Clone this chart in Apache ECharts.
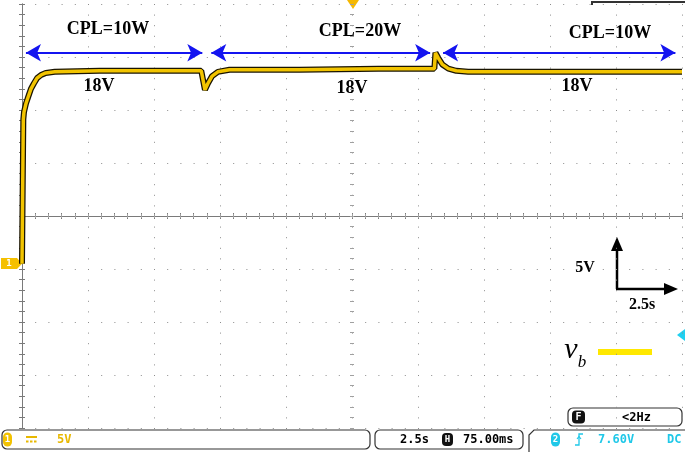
<!DOCTYPE html>
<html>
<head>
<meta charset="utf-8">
<script src="https://cdn.jsdelivr.net/npm/echarts@6/dist/echarts.min.js"></script>
<style>
html, body { margin: 0; padding: 0; background: #fff; }
#scope { width: 685px; height: 452px; }
</style>
</head>
<body>
<div id="scope"></div>
<script>
// trace v_b: time (s) and voltage (V)
var timeS = [0, 0.04, 0.05, 0.075, 0.15, 0.23, 0.34, 0.45, 0.57, 0.72, 0.9, 1.24, 2.94, 4.83, 6.79, 6.83, 6.93, 7.04, 7.2, 7.42, 7.86, 10.5, 13.5, 15.62, 15.66, 15.77, 15.92, 16.15, 16.45, 16.9, 20, 25];
var voltsV = [0, 0, 13.6, 14.3, 15.1, 15.7, 16.5, 17.0, 17.5, 17.8, 18.0, 18.1, 18.2, 18.2, 18.2, 18.1, 16.4, 17.0, 17.7, 18.1, 18.3, 18.3, 18.4, 18.4, 19.9, 19.4, 18.8, 18.4, 18.2, 18.1, 18.1, 18.1];

// load intervals (the blue arrows)
var loadLabels = ['CPL=10W', 'CPL=20W', 'CPL=10W'];
var loadStart = [0.15, 7.17, 15.95];
var loadEnd = [6.83, 15.46, 24.75];
var arrowVolts = 19.9;
var levelLabels = ['18V', '18V', '18V'];

// scope settings
var secPerDiv = 2.5;
var voltsPerDiv = 5;
var groundDiv = -0.9;
var statusCh1 = '5V';
var statusTime = '2.5s';
var statusDelay = '75.00ms';
var statusTrig = '7.60V';
var statusFreq = '<2Hz';

var toDiv = function (v) { return v / voltsPerDiv + groundDiv; };
var trace = timeS.map(function (t, i) { return [t, toDiv(voltsV[i])]; });

var chart = echarts.init(document.getElementById('scope'), null, { renderer: 'canvas' });

var gridGrey = '#8c8c8c';
var dotX = { show: true, lineStyle: { color: gridGrey, width: 1, type: [1, 9.6] } };
var dotY = { show: true, lineStyle: { color: gridGrey, width: 1, type: [1, 12.2] } };

function xAx(pos, offset, opts) {
  return Object.assign({
    type: 'value', position: pos, offset: offset,
    min: 0, max: 10 * secPerDiv, interval: secPerDiv,
    axisLine: { show: true, lineStyle: { color: '#7a7a7a', width: 1 } },
    axisTick: { show: true, inside: true, length: 3, lineStyle: { color: '#7a7a7a' } },
    minorTick: { show: true, splitNumber: 5, length: 3, lineStyle: { color: '#7a7a7a' } },
    axisLabel: { show: false },
    splitLine: { show: false }
  }, opts || {});
}
function yAx(pos, offset, opts) {
  return Object.assign({
    type: 'value', position: pos, offset: offset,
    min: -4, max: 4, interval: 1,
    axisLine: { show: true, lineStyle: { color: '#7a7a7a', width: 1 } },
    axisTick: { show: true, inside: true, length: 3, lineStyle: { color: '#7a7a7a' } },
    minorTick: { show: true, splitNumber: 5, length: 3, lineStyle: { color: '#7a7a7a' } },
    axisLabel: { show: false },
    splitLine: { show: false }
  }, opts || {});
}
var centreLine = { show: false };
var centreTick = function (inside) {
  return {
    axisLine: centreLine,
    axisTick: { show: true, inside: inside, length: 2, lineStyle: { color: '#a0a0a0' } },
    minorTick: { show: true, splitNumber: 5, length: 2, lineStyle: { color: '#a0a0a0' } }
  };
};

var arrowData = loadStart.map(function (s, i) {
  return [{ coord: [s, toDiv(arrowVolts)] }, { coord: [loadEnd[i], toDiv(arrowVolts)] }];
});

var serif = '"Liberation Serif", "Times New Roman", serif';
var mono = '"DejaVu Sans Mono", monospace';
var labelX = [108, 360, 610];
var labelY = [29, 31, 33];
var levelX = [99, 352, 577];
var levelY = [86, 88, 86];

var graphics = [];
loadLabels.forEach(function (txt, i) {
  graphics.push({ type: 'text', x: labelX[i], y: labelY[i], style: { text: txt, font: 'bold 18px ' + serif, fill: '#000', align: 'center', verticalAlign: 'middle' } });
});
levelLabels.forEach(function (txt, i) {
  graphics.push({ type: 'text', x: levelX[i], y: levelY[i], style: { text: txt, font: 'bold 18px ' + serif, fill: '#000', align: 'center', verticalAlign: 'middle' } });
});

graphics = graphics.concat([
  // scale bar
  { type: 'line', shape: { x1: 617, y1: 289, x2: 617, y2: 248 }, style: { stroke: '#000', lineWidth: 2.5 } },
  { type: 'polygon', shape: { points: [[617, 237], [611, 251], [623, 251]] }, style: { fill: '#000' } },
  { type: 'line', shape: { x1: 616, y1: 289, x2: 667, y2: 289 }, style: { stroke: '#000', lineWidth: 2.5 } },
  { type: 'polygon', shape: { points: [[678, 289], [664, 283], [664, 295]] }, style: { fill: '#000' } },
  { type: 'text', x: 585, y: 268, style: { text: voltsPerDiv + 'V', font: 'bold 16px ' + serif, fill: '#000', align: 'center', verticalAlign: 'middle' } },
  { type: 'text', x: 642, y: 305, style: { text: secPerDiv + 's', font: 'bold 16px ' + serif, fill: '#000', align: 'center', verticalAlign: 'middle' } },
  // legend v_b
  { type: 'text', x: 571, y: 350, style: { text: 'v', font: 'italic 30px ' + serif, fill: '#000', align: 'center', verticalAlign: 'middle' } },
  { type: 'text', x: 582, y: 363, style: { text: 'b', font: 'italic 17px ' + serif, fill: '#000', align: 'center', verticalAlign: 'middle' } },
  { type: 'rect', shape: { x: 598, y: 349, width: 54, height: 6 }, style: { fill: '#ffe800' } },
  // ch1 ground marker
  { type: 'polygon', shape: { points: [[1, 258], [17, 258], [22, 263.7], [17, 269], [1, 269]] }, style: { fill: '#f5c000' } },
  { type: 'text', x: 9, y: 264, style: { text: '1', font: 'bold 9px ' + mono, fill: '#fff', align: 'center', verticalAlign: 'middle' } },
  // trigger position marker
  { type: 'polygon', shape: { points: [[347, 0], [359, 0], [353, 9]] }, style: { fill: '#f5b800' } },
  // trigger level marker
  { type: 'polygon', shape: { points: [[677, 335], [685, 329], [685, 341]] }, style: { fill: '#20d0f0' } },
  // top right readout edge
  { type: 'polyline', shape: { points: [[592, 5], [592, 2], [685, 2]] }, style: { stroke: '#333', lineWidth: 2 } },
  // F box
  { type: 'rect', shape: { x: 568, y: 408, width: 114, height: 18, r: 5 }, style: { fill: '#fff', stroke: '#333', lineWidth: 1.2 } },
  { type: 'rect', shape: { x: 572, y: 410.5, width: 13, height: 13, r: 4 }, style: { fill: '#111' } },
  { type: 'text', x: 578.5, y: 417.5, style: { text: 'F', font: 'bold 10px ' + mono, fill: '#fff', align: 'center', verticalAlign: 'middle' } },
  { type: 'text', x: 622, y: 417.5, style: { text: statusFreq, font: 'bold 12px ' + mono, fill: '#000', align: 'left', verticalAlign: 'middle' } },
  // status bar: ch1
  { type: 'rect', shape: { x: 2, y: 430, width: 368, height: 19, r: 5 }, style: { fill: '#fff', stroke: '#333', lineWidth: 1.2 } },
  { type: 'rect', shape: { x: 3, y: 432.5, width: 9, height: 14, r: 4.5 }, style: { fill: '#f2c200' } },
  { type: 'text', x: 7.5, y: 439.5, style: { text: '1', font: 'bold 9px ' + mono, fill: '#fff', align: 'center', verticalAlign: 'middle' } },
  { type: 'line', shape: { x1: 26, y1: 437, x2: 37, y2: 437 }, style: { stroke: '#e8b800', lineWidth: 2 } },
  { type: 'line', shape: { x1: 26, y1: 441.5, x2: 37, y2: 441.5 }, style: { stroke: '#e8b800', lineWidth: 2, lineDash: [2.5, 1.5] } },
  { type: 'text', x: 57, y: 439.5, style: { text: statusCh1, font: 'bold 12px ' + mono, fill: '#e8b800', align: 'left', verticalAlign: 'middle' } },
  // status bar: timebase
  { type: 'rect', shape: { x: 375, y: 430, width: 148, height: 19, r: 5 }, style: { fill: '#fff', stroke: '#333', lineWidth: 1.2 } },
  { type: 'text', x: 400, y: 439.5, style: { text: statusTime, font: 'bold 12px ' + mono, fill: '#000', align: 'left', verticalAlign: 'middle' } },
  { type: 'rect', shape: { x: 442, y: 433, width: 11, height: 13, r: 4 }, style: { fill: '#111' } },
  { type: 'text', x: 447.5, y: 439.5, style: { text: 'H', font: 'bold 9px ' + mono, fill: '#fff', align: 'center', verticalAlign: 'middle' } },
  { type: 'text', x: 463, y: 439.5, style: { text: statusDelay, font: 'bold 12px ' + mono, fill: '#000', align: 'left', verticalAlign: 'middle' } },
  // status bar: trigger
  { type: 'polyline', shape: { points: [[529, 452], [529, 435], [534, 430], [685, 430]] }, style: { stroke: '#333', lineWidth: 1.2 } },
  { type: 'rect', shape: { x: 551, y: 432.5, width: 9, height: 14, r: 4.5 }, style: { fill: '#20c8e8' } },
  { type: 'text', x: 555.5, y: 439.5, style: { text: '2', font: 'bold 9px ' + mono, fill: '#fff', align: 'center', verticalAlign: 'middle' } },
  { type: 'polyline', shape: { points: [[575, 445], [579, 445], [579, 434], [583, 434]] }, style: { stroke: '#20c8e8', lineWidth: 1.3 } },
  { type: 'polyline', shape: { points: [[577, 439], [579, 436.5], [581, 439]] }, style: { stroke: '#20c8e8', lineWidth: 1.2 } },
  { type: 'text', x: 598, y: 439.5, style: { text: statusTrig, font: 'bold 12px ' + mono, fill: '#20c8e8', align: 'left', verticalAlign: 'middle' } },
  { type: 'text', x: 667, y: 439.5, style: { text: 'DC', font: 'bold 12px ' + mono, fill: '#20c8e8', align: 'left', verticalAlign: 'middle' } }
]);

chart.setOption({
  animation: false,
  backgroundColor: '#fff',
  grid: { left: 22, top: 4, width: 660, height: 424, containLabel: false },
  xAxis: [
    xAx('bottom', 0, { splitLine: dotX }),
    xAx('top', 0),
    xAx('bottom', -212, centreTick(true)),
    xAx('bottom', -212, centreTick(false))
  ],
  yAxis: [
    yAx('left', 0, { splitLine: dotY }),
    yAx('right', 0),
    yAx('left', -330, centreTick(true)),
    yAx('left', -330, centreTick(false))
  ],
  series: [
    {
      name: 'vb-edge', type: 'line', data: trace, showSymbol: false, silent: true,
      lineStyle: { color: '#1a1400', width: 6 }, z: 3
    },
    {
      name: 'vb', type: 'line', data: trace, showSymbol: false, silent: true,
      lineStyle: { color: '#f2c400', width: 3.5 }, z: 4,
      markLine: {
        silent: true, symbol: ['arrow', 'arrow'], symbolSize: [13, 15],
        label: { show: false },
        lineStyle: { color: '#1414f0', width: 2.2, type: 'solid' },
        data: arrowData
      }
    }
  ],
  graphic: graphics
});
</script>
</body>
</html>
